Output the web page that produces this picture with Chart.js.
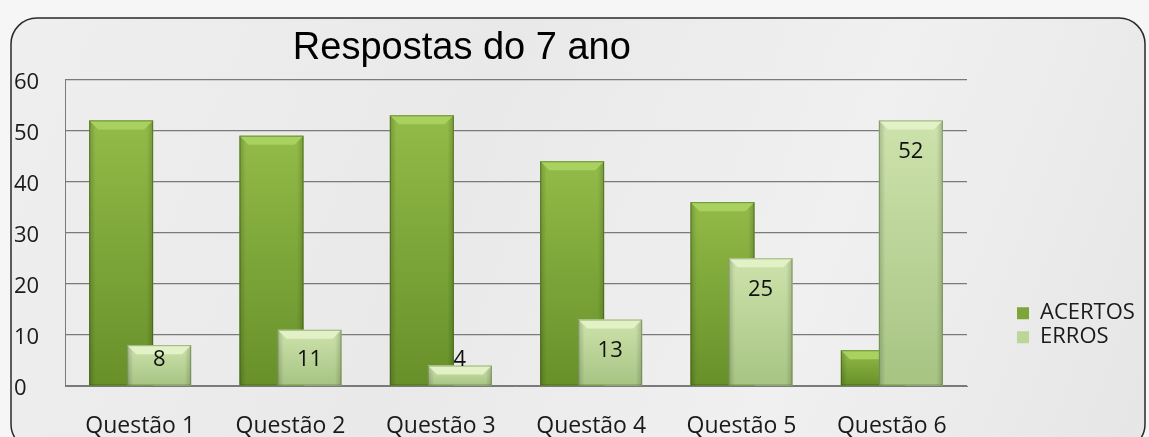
<!DOCTYPE html>
<html>
<head>
<meta charset="utf-8">
<script src="https://cdn.jsdelivr.net/npm/chart.js@4.4.1/dist/chart.umd.min.js"></script>
<style>
  html, body { margin: 0; padding: 0; background: #f7f7f7; }
  #wrap { width: 1149px; height: 437px; }
</style>
</head>
<body>
<div id="wrap"><canvas id="grafico" width="1149" height="437"></canvas></div>
<script>
// dados
const questoes = ['Questão 1', 'Questão 2', 'Questão 3', 'Questão 4', 'Questão 5', 'Questão 6'];
const acertos = [52, 49, 53, 44, 36, 7];
const erros = [8, 11, 4, 13, 25, 52];
const titulo = 'Respostas do 7 ano';

const fonte = "'Open Sans', 'DejaVu Sans', sans-serif";

// fundo tipo marmore + moldura arredondada
const fundo = {
    id: 'fundo',
    beforeDraw(chart) {
        const ctx = chart.ctx;
        ctx.save();
        ctx.fillStyle = '#f6f6f6';
        ctx.fillRect(0, 0, chart.width, chart.height);
        const g = ctx.createLinearGradient(0, 0, chart.width, chart.height);
        g.addColorStop(0, '#efefef');
        g.addColorStop(0.4, '#e9e9e9');
        g.addColorStop(0.7, '#f0f0f0');
        g.addColorStop(1, '#e6e6e6');
        ctx.beginPath();
        ctx.roundRect(11, 18, 1134, 432, 26);
        ctx.fillStyle = g;
        ctx.fill();
        ctx.lineWidth = 1.5;
        ctx.strokeStyle = '#2a2a2a';
        ctx.stroke();
        ctx.restore();
    }
};

// sombreado das barras (bisel no topo); ERROS por cima de ACERTOS
const cores = [
    { topo: '#92bb48', baixo: '#67902a', borda: 'rgba(50,75,15,0.45)', bisel: '#a9d160' },
    { topo: '#cde2ac', baixo: '#a7c483', borda: 'rgba(80,110,50,0.45)', bisel: '#e2f1c6' }
];
const bisel = {
    id: 'bisel',
    afterDatasetsDraw(chart) {
        const ctx = chart.ctx;
        ctx.save();
        [0, 1].forEach(k => {
            const c = cores[k];
            chart.getDatasetMeta(k).data.forEach(bar => {
                const p = bar.getProps(['x', 'y', 'base', 'width'], true);
                const l = p.x - p.width / 2, r = p.x + p.width / 2;
                const h = p.base - p.y;
                const g = ctx.createLinearGradient(0, p.y, 0, p.base);
                g.addColorStop(0, c.topo);
                g.addColorStop(1, c.baixo);
                ctx.fillStyle = g;
                ctx.fillRect(l, p.y, p.width, h);
                // laterais mais escuras
                const s = ctx.createLinearGradient(l, 0, r, 0);
                s.addColorStop(0, 'rgba(0,0,0,0.18)');
                s.addColorStop(0.1, 'rgba(0,0,0,0)');
                s.addColorStop(0.9, 'rgba(0,0,0,0)');
                s.addColorStop(1, 'rgba(0,0,0,0.18)');
                ctx.fillStyle = s;
                ctx.fillRect(l, p.y, p.width, h);
                const b = Math.min(9, h / 2);
                ctx.beginPath();
                ctx.moveTo(l, p.y);
                ctx.lineTo(r, p.y);
                ctx.lineTo(r - b, p.y + b);
                ctx.lineTo(l + b, p.y + b);
                ctx.closePath();
                ctx.fillStyle = c.bisel;
                ctx.fill();
                ctx.strokeStyle = c.borda;
                ctx.lineWidth = 1;
                ctx.strokeRect(l + 0.5, p.y + 0.5, p.width - 1, h - 1);
            });
        });
        // rotulos de valor so nos ERROS
        ctx.font = '22px ' + fonte;
        ctx.fillStyle = '#111';
        ctx.textAlign = 'center';
        ctx.textBaseline = 'middle';
        chart.getDatasetMeta(1).data.forEach((bar, i) => {
            const p = bar.getProps(['x', 'y', 'base'], true);
            const y = Math.min(p.y + 31, p.base - 26);
            ctx.fillText(String(erros[i]), p.x, y);
        });
        ctx.restore();
    }
};

// posiciona titulo e legenda como no original
const posicao = {
    id: 'posicao',
    afterLayout(chart) {
        const a = chart.chartArea;
        const t = chart.titleBlock;
        const meio = a.left + a.width * 0.44;
        const dx = meio - (t.left + t.right) / 2;
        t.left += dx;
        t.right += dx;
        const lg = chart.legend;
        const w = lg.right - lg.left, h = lg.bottom - lg.top;
        lg.left = a.right + 48;
        lg.right = lg.left + w;
        lg.top = a.top + a.height * 0.72;
        lg.bottom = lg.top + h;
    }
};

const ctx = document.getElementById('grafico').getContext('2d');
new Chart(ctx, {
    type: 'bar',
    data: {
        labels: questoes,
        datasets: [
            { label: 'ACERTOS', data: acertos, backgroundColor: '#7ca63a' },
            { label: 'ERROS', data: erros, backgroundColor: '#bcd698' }
        ]
    },
    options: {
        responsive: false,
        animation: false,
        categoryPercentage: 0.506,
        barPercentage: 1.68,
        layout: {
            padding: { left: 14, top: 0, right: 182, bottom: 0 }
        },
        scales: {
            x: {
                grid: { display: false, drawTicks: false },
                border: { display: true, color: '#7a7a7a' },
                ticks: {
                    color: '#1a1a1a',
                    font: { family: fonte, size: 23 },
                    padding: 27,
                    maxRotation: 0
                },
                afterFit(scale) { scale.height = 51; }
            },
            y: {
                min: 0,
                max: 60,
                ticks: {
                    stepSize: 10,
                    color: '#1a1a1a',
                    font: { family: fonte, size: 22 },
                    crossAlign: 'far',
                    labelOffset: 3
                },
                grid: { color: '#7a7a7a', lineWidth: 1.2, drawTicks: false },
                border: { display: true, color: '#7a7a7a' },
                afterFit(scale) { scale.width = 51; }
            }
        },
        plugins: {
            title: {
                display: true,
                text: titulo,
                color: '#000',
                font: { family: "'Liberation Sans', Arial, sans-serif", size: 38, weight: 'normal' },
                padding: { top: 26, bottom: 8 }
            },
            legend: {
                display: true,
                position: 'chartArea',
                align: 'start',
                labels: {
                    color: '#1a1a1a',
                    font: { family: fonte, size: 22 },
                    boxWidth: 12,
                    boxHeight: 12,
                    padding: 2
                }
            },
            tooltip: { enabled: false }
        }
    },
    plugins: [fundo, bisel, posicao]
});
</script>
</body>
</html>
